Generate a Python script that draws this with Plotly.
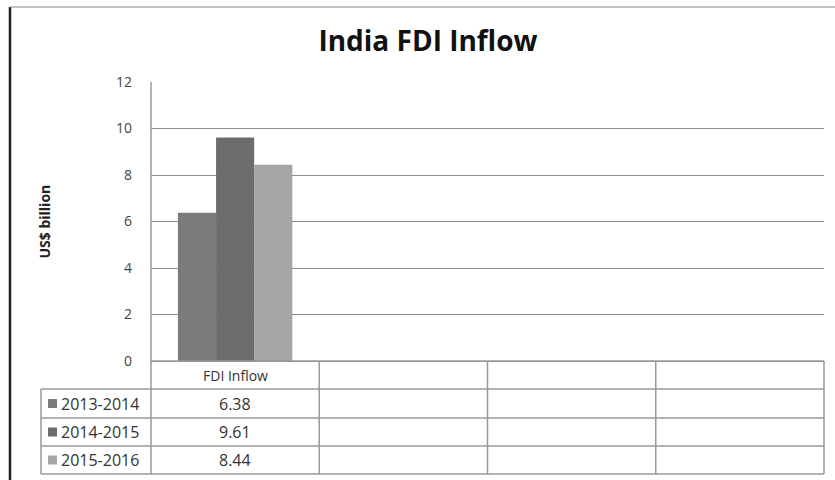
import plotly.graph_objects as go

categories = ["FDI Inflow", " ", "  ", "   "]
series_names = ["2013-2014", "2014-2015", "2015-2016"]
series_values = [[6.38], [9.61], [8.44]]
series_colors = ["#7b7b7b", "#6c6c6c", "#a6a6a6"]
y_ticks = [0, 2, 4, 6, 8, 10, 12]
title_text = "India FDI Inflow"
y_title = "US$ billion"

W, H = 835, 480
L, R, T, B = 151, 11, 82, 119
PW, PH = W - L - R, H - T - B

def px2x(px):
    return (px - L) / PW

def py2y(py):
    return (H - B - py) / PH

fig = go.Figure()
for name, vals, col in zip(series_names, series_values, series_colors):
    fig.add_trace(go.Bar(x=categories[:len(vals)], y=vals, name=name,
                         marker=dict(color=col, line=dict(width=0))))

shapes = []
line_c = "#9a9a9a"
# outer frame (left dark, top gray)
shapes.append(dict(type="line", xref="paper", yref="paper", x0=px2x(10), x1=px2x(10),
                   y0=py2y(7), y1=py2y(480), line=dict(color="#222", width=2.5)))
shapes.append(dict(type="line", xref="paper", yref="paper", x0=px2x(10), x1=px2x(835),
                   y0=py2y(7), y1=py2y(7), line=dict(color="#888", width=1.2)))
# left axis line extended through table
shapes.append(dict(type="line", xref="paper", yref="paper", x0=0, x1=0,
                   y0=py2y(82), y1=py2y(474), line=dict(color=line_c, width=1.5)))
# table geometry
col_edges = [151 + i * PW / len(categories) for i in range(len(categories) + 1)]
row_edges = [361, 389, 418, 446, 474]
for xe in col_edges[1:]:
    shapes.append(dict(type="line", xref="paper", yref="paper", x0=px2x(xe), x1=px2x(xe),
                       y0=py2y(361), y1=py2y(474), line=dict(color=line_c, width=1.5)))
shapes.append(dict(type="line", xref="paper", yref="paper", x0=px2x(41), x1=px2x(41),
                   y0=py2y(389), y1=py2y(474), line=dict(color=line_c, width=1.5)))
for i, ye in enumerate(row_edges):
    x0 = 151 if i == 0 else 41
    shapes.append(dict(type="line", xref="paper", yref="paper", x0=px2x(x0), x1=px2x(col_edges[-1]),
                       y0=py2y(ye), y1=py2y(ye), line=dict(color=line_c, width=1.5)))

annotations = []
FONT = "'Open Sans', Lato, sans-serif"
tfont = dict(family=FONT, size=16, color="#333")
annotations.append(dict(text=categories[0], xref="paper", yref="paper",
                        x=px2x((col_edges[0] + col_edges[1]) / 2), y=py2y((row_edges[0] + row_edges[1]) / 2),
                        showarrow=False, font=dict(family=FONT, size=14, color="#333"),
                        xanchor="center", yanchor="middle"))
for i, (name, vals, col) in enumerate(zip(series_names, series_values, series_colors)):
    yc = (row_edges[i + 1] + row_edges[i + 2]) / 2
    shapes.append(dict(type="rect", xref="paper", yref="paper", x0=px2x(48), x1=px2x(57),
                       y0=py2y(yc - 4.5), y1=py2y(yc + 4.5), fillcolor=col, line=dict(width=0)))
    annotations.append(dict(text=name, xref="paper", yref="paper", x=px2x(59), y=py2y(yc),
                            showarrow=False, font=tfont, xanchor="left", yanchor="middle"))
    for j, v in enumerate(vals):
        annotations.append(dict(text=f"{v:.2f}", xref="paper", yref="paper",
                                x=px2x((col_edges[j] + col_edges[j + 1]) / 2), y=py2y(yc),
                                showarrow=False, font=tfont, xanchor="center", yanchor="middle"))
annotations.append(dict(text=f"<b>{y_title}</b>", xref="paper", yref="paper", x=px2x(44), y=0.5,
                        textangle=-90, showarrow=False,
                        font=dict(family=FONT, size=14, color="#222"),
                        xanchor="center", yanchor="middle"))

fig.update_layout(
    width=W, height=H,
    margin=dict(l=L, r=R, t=T, b=B),
    paper_bgcolor="white", plot_bgcolor="white",
    title=dict(text=f"<b>{title_text}</b>", x=428 / W, xanchor="center", y=1 - 41 / H, yanchor="middle",
               font=dict(family=FONT, size=28, color="#111")),
    showlegend=False,
    barmode="group", bargap=0.32, bargroupgap=0,
    xaxis=dict(type="category", categoryorder="array", categoryarray=categories,
               range=[-0.5, len(categories) - 0.5], showticklabels=False, showgrid=False,
               zeroline=False, showline=False, ticks=""),
    yaxis=dict(range=[0, 12], tickvals=y_ticks, showgrid=True, gridcolor="#8c8c8c", gridwidth=1.3,
               zeroline=True, zerolinecolor="#8c8c8c", zerolinewidth=1.3, showline=False,
               ticks="", ticklabelstandoff=18,
               tickfont=dict(family=FONT, size=14, color="#444")),
    shapes=shapes, annotations=annotations,
)
fig.write_html("out.html")
